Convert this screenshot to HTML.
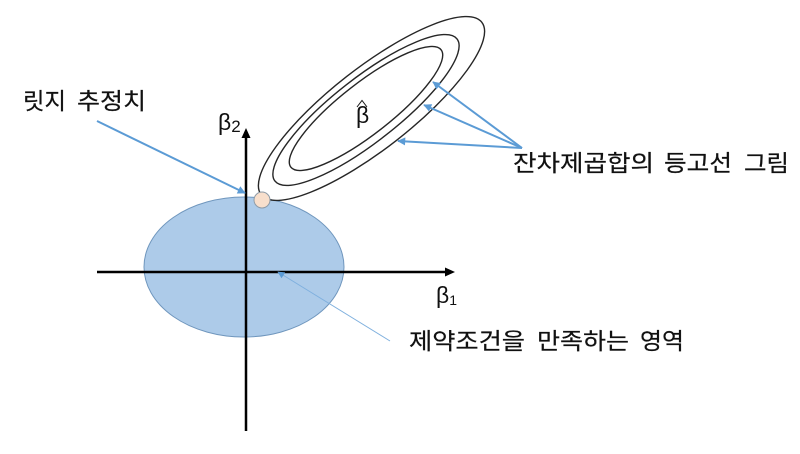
<!DOCTYPE html>
<html lang="ko"><head><meta charset="utf-8"><style>
html,body{margin:0;padding:0;background:#fff}
svg{display:block}
text{font-family:"Liberation Sans","Noto Sans CJK KR",sans-serif;fill:#111}
.k{stroke:#111;stroke-width:.2px}
</style></head><body>
<svg width="800" height="454" viewBox="0 0 800 454" xmlns="http://www.w3.org/2000/svg">
<defs>
<marker id="b" viewBox="0 0 10 10" refX="9" refY="5" markerWidth="10" markerHeight="8" markerUnits="userSpaceOnUse" orient="auto"><path d="M0 0L10 5L0 10Z" fill="#5b9bd5"/></marker>
<marker id="t" viewBox="0 0 10 10" refX="9" refY="5" markerWidth="9" markerHeight="7" markerUnits="userSpaceOnUse" orient="auto"><path d="M0 0L10 5L0 10Z" fill="#5b9bd5"/></marker>
</defs>
<ellipse cx="244" cy="267" rx="100" ry="70" fill="#adcbe9" stroke="#6f96bd" stroke-width="1"/>
<g fill="none" stroke="#262626" stroke-width="1.4">
<ellipse cx="371.500" cy="108.500" rx="140" ry="40.500" transform="rotate(-38 371.500 108.500)"/>
<ellipse cx="366" cy="110" rx="115.500" ry="32" transform="rotate(-38 366 110)"/>
<ellipse cx="366" cy="108.500" rx="95.300" ry="25.500" transform="rotate(-38 366 108.500)"/>
</g>
<path d="M97 272H448" stroke="#000" stroke-width="2.500"/>
<path d="M455 272L445 267.500V276.500Z" fill="#000"/>
<path d="M246 431V137" stroke="#000" stroke-width="2.500"/>
<path d="M246 128L241.500 138H250.500Z" fill="#000"/>
<circle cx="262" cy="200" r="8" fill="#f8dfcc" stroke="#8d9aa6" stroke-width="1"/>
<g fill="none" stroke="#5b9bd5" stroke-width="2">
<path d="M97 121L245 193" marker-end="url(#b)"/>
<path d="M522 148L433 82" marker-end="url(#b)"/>
<path d="M522 148L424 105" marker-end="url(#b)"/>
<path d="M522 148L398 141" marker-end="url(#b)"/>
</g>
<path d="M390 341L278 272" fill="none" stroke="#7fb0de" stroke-width="1" marker-end="url(#t)"/>
<g class="k" font-size="23">
<text x="23" y="109" textLength="43" lengthAdjust="spacingAndGlyphs">릿지</text>
<text x="77" y="109" textLength="69" lengthAdjust="spacingAndGlyphs">추정치</text>
<text x="513" y="171" textLength="141" lengthAdjust="spacingAndGlyphs">잔차제곱합의</text>
<text x="664" y="171" textLength="68" lengthAdjust="spacingAndGlyphs">등고선</text>
<text x="744" y="171" textLength="45" lengthAdjust="spacingAndGlyphs">그림</text>
<text x="409" y="349" textLength="116" lengthAdjust="spacingAndGlyphs">제약조건을</text>
<text x="537" y="349" textLength="92" lengthAdjust="spacingAndGlyphs">만족하는</text>
<text x="640" y="349" textLength="44" lengthAdjust="spacingAndGlyphs">영역</text>
</g>
<text x="218" y="130" font-size="23">β<tspan font-size="17" dy="2">2</tspan></text>
<text x="436" y="303" font-size="23">β<tspan font-size="14" dy="2">1</tspan></text>
<text x="356" y="123" font-size="23">β</text>
<path d="M357 107L362 100.500L367 107" fill="none" stroke="#1a1a1a" stroke-width="1"/>
</svg>
</body></html>
